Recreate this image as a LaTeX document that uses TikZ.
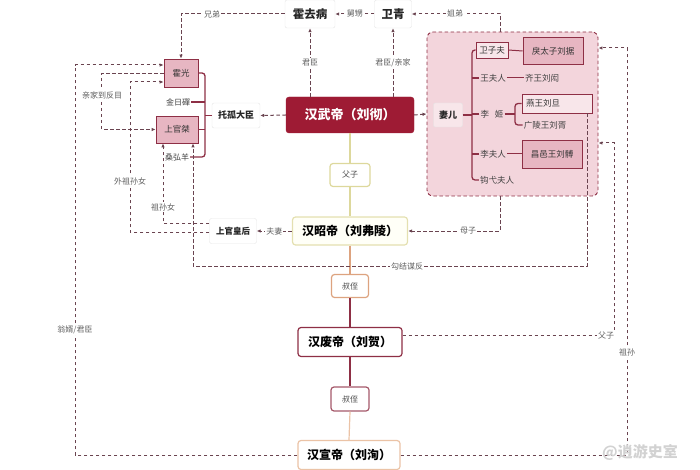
\documentclass[tikz,border=0pt]{standalone}
\usepackage{fontspec}
\setmainfont{Noto Sans CJK SC}
\usepackage{xcolor}
\usepackage{tikz}
\usetikzlibrary{arrows.meta}

\definecolor{wudired}{HTML}{9E1B34}
\definecolor{deepred}{HTML}{8E2F45}
\definecolor{regionpink}{HTML}{F3D5DC}
\definecolor{boxpink}{HTML}{E7B6C2}
\definecolor{lightpink}{HTML}{F8E6EA}
\definecolor{dashcol}{HTML}{6A4450}
\definecolor{labelgray}{HTML}{606060}
\definecolor{olivecol}{HTML}{DDD89C}
\definecolor{orangecol}{HTML}{DDA37F}
\definecolor{peachcol}{HTML}{EBC3A6}
\newcommand{\fsz}[1]{\fontsize{#1}{#1}\selectfont}

\begin{document}
\begin{tikzpicture}[x=1pt,y=-1pt,
  plainbox/.style={draw=black!10,fill=white,rounded corners=2pt,inner sep=0pt,text=black!85,font=\bfseries\fsz{9}},
  pinkbox/.style={draw=deepred,fill=boxpink,line width=0.8pt,inner sep=0pt,text=black!80,font=\fsz{8.5}},
  item/.style={inner sep=1pt,text=black!75,font=\fsz{8.5}},
  kinbox/.style={rounded corners=3pt,fill=white,line width=1.2pt,inner sep=0pt,text=black!70,font=\fsz{8}},
  emperor/.style={rounded corners=3pt,fill=white,line width=1.2pt,inner sep=0pt,text=black,font=\bfseries\fsz{12}},
  dline/.style={draw=dashcol,line width=1pt,dash pattern=on 3.5pt off 2.5pt},
  arr/.style={-{Latex[length=4pt,width=3.5pt]}},
  lbl/.style={fill=white,inner sep=1pt,text=labelgray,font=\fsz{8}},
  brk/.style={draw=deepred,line width=1.3pt,rounded corners=3pt}]
\useasboundingbox (0,0) rectangle (700,470);

% wife and children area
\node[draw=deepred,fill=regionpink,dash pattern=on 3.5pt off 2.5pt,line width=0.9pt,rounded corners=6pt,minimum width=171,minimum height=164] (family) at (512.5,114) {};
\node[draw=black!10,fill=lightpink,rounded corners=2pt,minimum width=29,minimum height=24,inner sep=0pt,font=\bfseries\fsz{9},text=black!85] (qier) at (448,115) {妻儿};
\node[draw=deepred,fill=lightpink,line width=0.7pt,minimum width=32,minimum height=16,inner sep=0pt,font=\fsz{8.5},text=black!80] (weizf) at (492,50) {卫子夫};
\node[pinkbox,minimum width=60,minimum height=27] (ju) at (553,51) {戾太子刘据};
\node[item] (wangfr) at (493,78) {王夫人};
\node[item] (qiwang) at (542,78) {齐王刘闳};
\node[item] (liji) at (492,114) {李\hspace{0.7em}姬};
\node[draw=deepred,fill=lightpink,line width=0.8pt,text width=62pt,align=left,inner xsep=4pt,inner ysep=0pt,minimum height=19,font=\fsz{8.5},text=black!80] (yan) at (557,103.5) {燕王刘旦};
\node[item] (guangling) at (545,125) {广陵王刘胥};
\node[item] (lifr) at (493,154) {李夫人};
\node[pinkbox,minimum width=60,minimum height=28] (changyi) at (552,154) {昌邑王刘髆};
\node[item] (gouyi) at (497,180) {钩弋夫人};

% top
\node[plainbox,font=\bfseries\fsz{11.5},minimum width=50,minimum height=28] (huoqb) at (310,14) {霍去病};
\node[plainbox,font=\bfseries\fsz{11.5},minimum width=37,minimum height=28] (weiq) at (393,14) {卫青};

% regents
\node[pinkbox,minimum width=34,minimum height=28] (huoguang) at (181,73) {霍光};
\node[item,font=\fsz{8}] (jin) at (178,102) {金日磾};
\node[pinkbox,minimum width=42,minimum height=27] (shangguan) at (177,129.5) {上官桀};
\node[item,font=\fsz{8}] (sang) at (177,157) {桑弘羊};
\node[plainbox,minimum width=48,minimum height=25] (tuogu) at (236,115.5) {托孤大臣};

% emperors
\node[rounded corners=3pt,fill=wudired,draw=wudired,inner sep=0pt,text=white,font=\bfseries\fsz{13},minimum width=128,minimum height=36] (wudi) at (350,115) {汉武帝（刘彻）};
\node[kinbox,draw=olivecol,minimum width=40,minimum height=23] (fz) at (350,175) {父子};
\node[emperor,draw=olivecol!80,fill=yellow!3,minimum width=115,minimum height=28] (zhao) at (350,231) {汉昭帝（刘弗陵）};
\node[plainbox,font=\bfseries\fsz{8.5},minimum width=47,minimum height=25] (hgh) at (233,231) {上官皇后};
\node[kinbox,draw=orangecol,minimum width=37,minimum height=23] (sz1) at (350,286) {叔侄};
\node[emperor,draw=deepred,minimum width=104,minimum height=29] (fei) at (350,342) {汉废帝（刘贺）};
\node[kinbox,draw=deepred!80,minimum width=38,minimum height=24] (sz2) at (350,399) {叔侄};
\node[emperor,draw=peachcol,minimum width=102,minimum height=29] (xuan) at (349,455) {汉宣帝（刘洵）};

% line of succession
\draw[olivecol,line width=1.2pt] (wudi.south) -- (fz.north);
\draw[olivecol,line width=1.2pt] (fz.south) -- (zhao.north);
\draw[orangecol,line width=1.2pt] (zhao.south) -- (sz1.north);
\draw[deepred,line width=1.2pt] (sz1.south) -- (fei.north);
\draw[deepred,line width=1.2pt] (fei.south) -- (sz2.north);
\draw[peachcol,line width=1.2pt] (sz2.south) -- (xuan.north);

% brackets
\coordinate (tgbar) at (205,115.5);
\draw[brk] (huoguang.east) -| (tgbar) |- (sang.east);
\draw[brk] (jin.east) -- (jin.east -| tgbar);
\draw[brk] (shangguan.east) -- (shangguan.east -| tgbar);
\draw[brk] (tgbar) -- (tuogu.west);
\coordinate (qbar) at (472,115);
\draw[brk] (weizf.west) -| (qbar) |- (gouyi.west);
\draw[brk] (wangfr.west) -- (wangfr.west -| qbar);
\draw[brk] (liji.west) -- (liji.west -| qbar);
\draw[brk] (lifr.west) -- (lifr.west -| qbar);
\draw[brk] (qier.east) -- (qbar);
\coordinate (lbar) at (515,114);
\draw[brk] (liji.east) -- (lbar);
\draw[brk] (yan.west) -| (lbar) |- (guangling.west);
\draw[deepred,line width=1pt] (weizf.east) -- (ju.west);
\draw[deepred,line width=1pt] (wangfr.east) -- (qiwang.west);
\draw[deepred,line width=1pt] (lifr.east) -- (changyi.west);

% dashed relations
\draw[dline,arr] (weiq.west) -- (huoqb.east) node[lbl,midway] {舅甥};
\draw[dline,arr] (huoqb.west) -| (huoguang.north);
\node[lbl] at (212,14) {兄弟};
\coordinate (jdtop) at (500,32);
\draw[dline,arr] (jdtop) |- (weiq.east);
\node[lbl] at (455,13) {姐弟};
\draw[dline,arr] (wudi.north -| huoqb.south) -- (huoqb.south) node[lbl,midway] {君臣};
\draw[dline,arr] (wudi.north -| weiq.south) -- (weiq.south) node[lbl,midway] {君臣/亲家};
\draw[dline,arr] (wudi.west) -- (tuogu.east);
\draw[dline,arr] (wudi.east) -- (family.west);
\draw[dline,arr] ([yshift=-1pt]huoguang.west) -- ++(-62,0) |- (shangguan.west);
\node[lbl] at (102,95) {亲家到反目};
\draw[dline,arr] ([yshift=-1pt]hgh.west) -| (130,82) -- ([yshift=-9pt]huoguang.west);
\node[lbl] at (130,181) {外祖孙女};
\draw[dline,arr] ([yshift=8pt]hgh.west) -| ([xshift=-14pt]shangguan.south);
\node[lbl] at (163,207) {祖孙女};
\draw[dline,arr] ([xshift=30pt]yan.south) |- (193,266) -- ([xshift=16pt]shangguan.south);
\node[lbl] at (407,266) {勾结谋反};
\draw[dline,arr] (zhao.west) -- (hgh.east) node[lbl,midway] {夫妻};
\draw[dline,arr] ([xshift=-12.5pt]family.south) |- (zhao.east);
\node[lbl] at (468,231) {母子};
\draw[dline,arr] ([yshift=7pt]fei.east) -| (614,143) -- ([yshift=-29pt]family.east);
\node[lbl] at (606,335) {父子};
\draw[dline,arr] (xuan.east) -| (627,48) -- ([yshift=66pt]family.east);
\node[lbl] at (627,352) {祖孙};
\draw[dline,arr] (xuan.west) -| (75,65) -- ([yshift=8pt]huoguang.west);
\node[lbl] at (75,330) {翁婿/君臣};

% watermark
\node[text=gray!35,font=\bfseries\fsz{15}] (mark) at (640,452) {@逍游史室};
\end{tikzpicture}
\end{document}
